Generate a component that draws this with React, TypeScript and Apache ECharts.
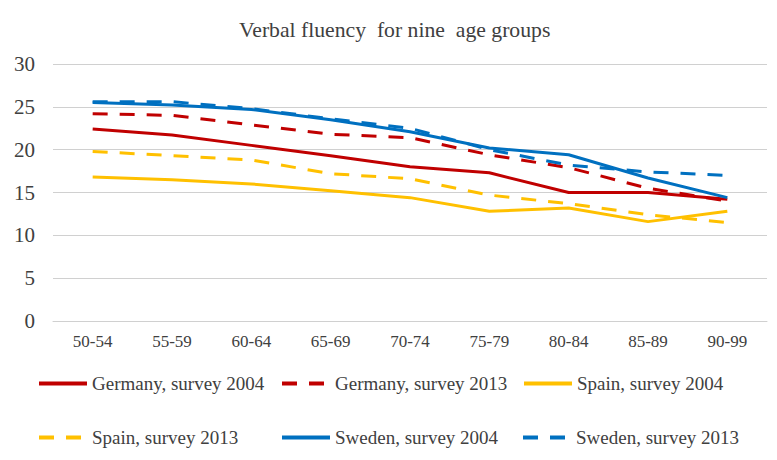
import React, { useEffect, useRef } from "react";
import * as echarts from "echarts";

const categories = ["50-54", "55-59", "60-64", "65-69", "70-74", "75-79", "80-84", "85-89", "90-99"];
const germany2004 = [22.4, 21.7, 20.5, 19.3, 18.0, 17.3, 15.0, 15.0, 14.2];
const germany2013 = [24.2, 24.0, 22.9, 21.8, 21.4, 19.4, 17.9, 15.5, 14.0];
const spain2004 = [16.8, 16.5, 16.0, 15.2, 14.4, 12.8, 13.2, 11.6, 12.8];
const spain2013 = [19.8, 19.3, 18.8, 17.2, 16.6, 14.7, 13.7, 12.4, 11.5];
const sweden2004 = [25.5, 25.2, 24.7, 23.5, 22.1, 20.2, 19.4, 16.7, 14.4];
const sweden2013 = [25.6, 25.6, 24.8, 23.6, 22.5, 20.0, 18.2, 17.4, 17.0];

const seriesNames = [
  "Germany, survey 2004",
  "Germany, survey 2013",
  "Spain, survey 2004",
  "Spain, survey 2013",
  "Sweden, survey 2004",
  "Sweden, survey 2013",
];

const FONT = "Liberation Serif";
const RED = "#C00000";
const YELLOW = "#FFC000";
const BLUE = "#0070C0";
const DASH = [15, 12];

export default function App() {
  const ref = useRef<HTMLDivElement>(null);
  useEffect(() => {
    if (!ref.current) return;
    const chart = echarts.init(ref.current, null, { renderer: "svg" });
    const specs = [
      { data: germany2004, color: RED, dashed: false },
      { data: germany2013, color: RED, dashed: true },
      { data: spain2004, color: YELLOW, dashed: false },
      { data: spain2013, color: YELLOW, dashed: true },
      { data: sweden2004, color: BLUE, dashed: false },
      { data: sweden2013, color: BLUE, dashed: true },
    ];
    const legendPos = [
      [32, 369],
      [275, 369],
      [517, 369],
      [32, 423],
      [275, 423],
      [516, 423],
    ];
    chart.setOption({
      animation: false,
      backgroundColor: "#ffffff",
      textStyle: { fontFamily: FONT },
      title: {
        text: "Verbal fluency  for nine  age groups",
        left: 234,
        top: 14,
        textStyle: { fontFamily: FONT, fontSize: 21.7, fontWeight: "normal", color: "#404040" },
      },
      legend: seriesNames.map((name, i) => ({
        data: [name],
        left: legendPos[i][0],
        top: legendPos[i][1],
        itemWidth: 48,
        itemHeight: 14,
        itemStyle: { opacity: 0 },
        lineStyle: { width: 4 },
        textStyle: { fontFamily: FONT, fontSize: 19, color: "#404040" },
        selectedMode: false,
      })),
      grid: { left: 53, right: 10, top: 64, bottom: 139, containLabel: false },
      xAxis: {
        type: "category",
        data: categories,
        boundaryGap: true,
        axisLine: { show: true, lineStyle: { color: "#d0d0d0", width: 1 } },
        axisTick: { show: false },
        axisLabel: { fontFamily: FONT, fontSize: 17, color: "#404040", margin: 12 },
      },
      yAxis: {
        type: "value",
        min: 0,
        max: 30,
        interval: 5,
        axisLine: { show: false },
        axisTick: { show: false },
        axisLabel: { fontFamily: FONT, fontSize: 21, color: "#404040", margin: 18 },
        splitLine: { lineStyle: { color: "#d0d0d0", width: 1 } },
      },
      series: specs.map((s, i) => ({
        name: seriesNames[i],
        type: "line",
        data: s.data,
        symbol: "none",
        showSymbol: false,
        color: s.color,
        lineStyle: { color: s.color, width: 3, type: s.dashed ? DASH : "solid" },
      })),
    });
    return () => chart.dispose();
  }, []);
  return (
    <div
      ref={ref}
      style={{ position: "fixed", left: 0, top: 0, width: 777, height: 460, background: "#fff" }}
    />
  );
}
